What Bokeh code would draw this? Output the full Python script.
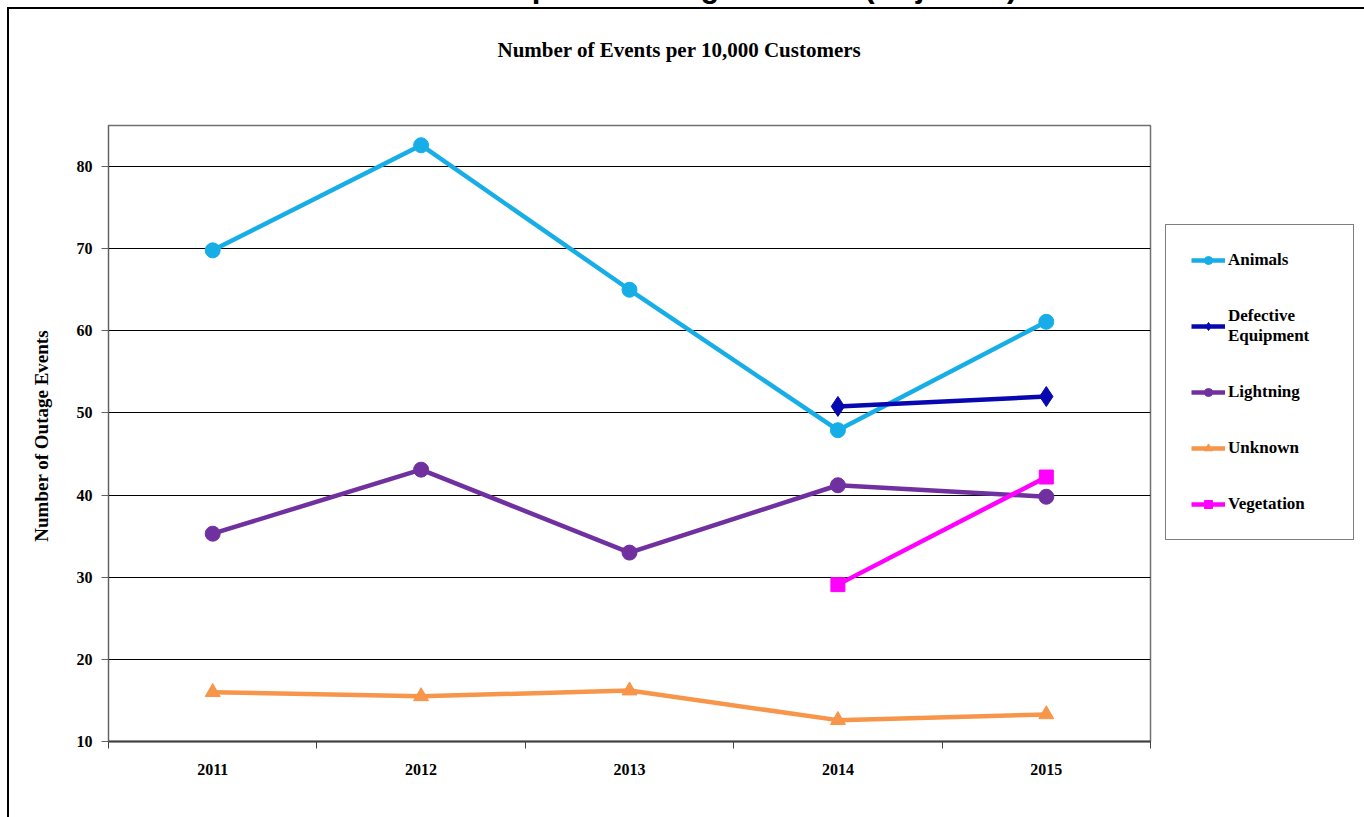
from bokeh.plotting import figure
from bokeh.models import (FixedTicker, Legend, LegendItem, Title, InlineStyleSheet,
                          GlobalInlineStyleSheet)
from bokeh.embed import file_html
from bokeh.resources import INLINE

years = ["2011", "2012", "2013", "2014", "2015"]
xpos = [1, 2, 3, 4, 5]

animals = [69.8, 82.6, 65.0, 47.9, 61.1]
defective_years = [4, 5]
defective = [50.8, 52.0]
lightning = [35.3, 43.1, 33.0, 41.2, 39.8]
unknown = [16.0, 15.5, 16.2, 12.6, 13.3]
vegetation_years = [4, 5]
vegetation = [29.1, 42.2]

y_ticks = [10, 20, 30, 40, 50, 60, 70, 80]

SERIF = "Liberation Serif"
HIDDEN = 90  # pixels of the canvas pushed above the window (title is cut off in the reference)

border_css = InlineStyleSheet(css="""
:host::after {
  content: "";
  position: fixed;
  left: 7px;
  top: 7px;
  width: 1400px;
  height: 900px;
  border-left: 2px solid black;
  border-top: 2px solid black;
  pointer-events: none;
}
""")
page_css = GlobalInlineStyleSheet(css="html, body { overflow: hidden; margin: 0; }")

p = figure(frame_width=1042, frame_height=616, x_range=(0.5, 5.5), y_range=(10, 85),
           output_backend="svg", toolbar_location=None, title=None,
           min_border_left=108, min_border_right=214,
           min_border_top=125 + HIDDEN, min_border_bottom=76,
           margin=(-HIDDEN, 0, 0, 0), stylesheets=[border_css, page_css])
p.background_fill_color = "white"
p.border_fill_color = "white"
p.outline_line_color = "#707070"
p.outline_line_width = 1.5

# axes
p.xaxis.ticker = FixedTicker(ticks=xpos, minor_ticks=[0.5, 1.5, 2.5, 3.5, 4.5, 5.5])
p.xaxis.major_label_overrides = {x: y for x, y in zip(xpos, years)}
p.xaxis.major_tick_out = 0
p.xaxis.major_tick_in = 0
p.xaxis.minor_tick_out = 7
p.xaxis.minor_tick_in = 0
p.xaxis.minor_tick_line_color = "#404040"
p.xaxis.axis_line_color = "#404040"
p.xaxis.axis_line_width = 2
p.xaxis.major_label_standoff = 15
p.xaxis.major_label_text_font = SERIF
p.xaxis.major_label_text_font_style = "bold"
p.xaxis.major_label_text_font_size = "16px"
p.xaxis.major_label_text_color = "black"

p.yaxis.ticker = FixedTicker(ticks=y_ticks)
p.yaxis.minor_tick_line_color = None
p.yaxis.major_tick_out = 7
p.yaxis.major_tick_in = 0
p.yaxis.major_tick_line_color = "#606060"
p.yaxis.axis_line_color = "#606060"
p.yaxis.major_label_standoff = 9
p.yaxis.major_label_text_font = SERIF
p.yaxis.major_label_text_font_style = "bold"
p.yaxis.major_label_text_font_size = "16px"
p.yaxis.major_label_text_color = "black"
p.yaxis.axis_label = "Number  of Outage Events"
p.yaxis.axis_label_text_font = SERIF
p.yaxis.axis_label_text_font_style = "bold"
p.yaxis.axis_label_text_font_size = "19px"
p.yaxis.axis_label_text_color = "black"
p.yaxis.axis_label_standoff = 22

p.xgrid.grid_line_color = None
p.ygrid.ticker = FixedTicker(ticks=[20, 30, 40, 50, 60, 70, 80])
p.ygrid.grid_line_color = "black"
p.ygrid.grid_line_width = 1

# series
items = []

c = "#17AEE8"
r1 = p.line(xpos, animals, line_color=c, line_width=4.5)
r2 = p.scatter(xpos, animals, marker="circle", size=15, fill_color=c, line_color=c)
items.append(LegendItem(label="Animals", renderers=[r1, r2]))

c = "#0808B0"
r1 = p.line(defective_years, defective, line_color=c, line_width=4.5)
r2 = p.scatter(defective_years, defective, marker="diamond", size=20, fill_color=c, line_color=c)
items.append(LegendItem(label="Defective\nEquipment", renderers=[r1, r2]))

c = "#7030A0"
r1 = p.line(xpos, lightning, line_color=c, line_width=4.5)
r2 = p.scatter(xpos, lightning, marker="circle", size=15, fill_color=c, line_color=c)
items.append(LegendItem(label="Lightning", renderers=[r1, r2]))

c = "#F7964A"
r1 = p.line(xpos, unknown, line_color=c, line_width=4.5)
r2 = p.scatter(xpos, unknown, marker="triangle", size=15, fill_color=c, line_color=c)
items.append(LegendItem(label="Unknown", renderers=[r1, r2]))

c = "#FF00FF"
r1 = p.line(vegetation_years, vegetation, line_color=c, line_width=4.5)
r2 = p.scatter(vegetation_years, vegetation, marker="square", size=14, fill_color=c, line_color=c)
items.append(LegendItem(label="Vegetation", renderers=[r1, r2]))

legend = Legend(items=items, location=(15, 201))
legend.border_line_color = "black"
legend.border_line_width = 1
legend.background_fill_color = "white"
legend.padding = 25
legend.spacing = 36
legend.glyph_width = 34
legend.glyph_height = 20
legend.label_standoff = 3
legend.label_width = 100
legend.label_text_font = SERIF
legend.label_text_font_style = "bold"
legend.label_text_font_size = "17px"
legend.label_text_color = "black"
legend.margin = 0
p.add_layout(legend, "right")

# titles, innermost first: spacer, sub-title, main title (cut off by the window)
p.add_layout(Title(text=" ", standoff=50, text_font_size="10px"), "above")
p.add_layout(Title(text="Number of Events per 10,000 Customers", align="left", offset=389,
                   standoff=2, text_font=SERIF, text_font_style="bold",
                   text_font_size="21px", text_color="black"), "above")
p.add_layout(Title(text="Current Top Five Outage Causes (Adjusted)", align="left", offset=267,
                   standoff=62, text_font="Liberation Sans", text_font_style="bold",
                   text_font_size="31px", text_color="black"), "above")

open("out.html", "w").write(file_html(p, INLINE))
